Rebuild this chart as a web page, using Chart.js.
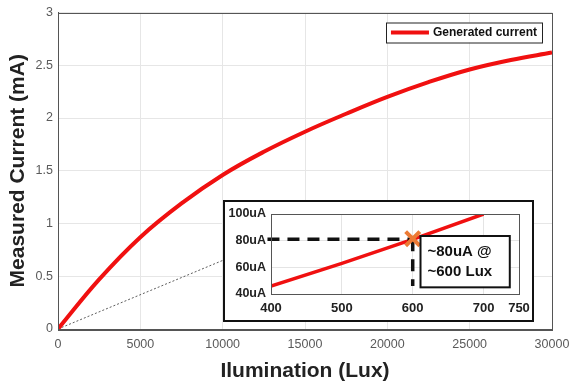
<!DOCTYPE html>
<html>
<head>
<meta charset="utf-8">
<script src="https://cdn.jsdelivr.net/npm/chart.js@4.4.0/dist/chart.umd.min.js"></script>
<style>
  body { margin: 0; background: #fff; overflow: hidden; }
  #wrap { position: relative; width: 572px; height: 388px; }
  #main { position: absolute; left: 0; top: 0; }
  #inset { position: absolute; left: 223px; top: 200px; }
</style>
</head>
<body>
<div id="wrap">
  <canvas id="main" width="572" height="388"></canvas>
  <canvas id="inset" width="311" height="122"></canvas>
</div>
<script>
"use strict";

Chart.defaults.font.family = "'Liberation Sans', Arial, sans-serif";

// main curve
var luxValues = [0, 2500, 5000, 7500, 10000, 12500, 15000, 17500, 20000, 22500, 25000, 27500, 30000];
var currentValues = [0, 0.47, 0.87, 1.19, 1.46, 1.68, 1.87, 2.04, 2.20, 2.34, 2.46, 2.55, 2.62];
var xTicks = [0, 5000, 10000, 15000, 20000, 25000, 30000];
var yTicks = [0, 0.5, 1, 1.5, 2, 2.5, 3];

// thin line pointing at the zoomed inset
var zoomLineLux = [0, 10000];
var zoomLineCurrent = [0, 0.65];

// inset (uA)
var insetLux = [400, 500, 600, 700];
var insetCurrent = [46, 63, 81, 100];
var insetXTicks = [400, 500, 600, 700, 750];
var insetYTicks = [40, 60, 80, 100];
var markerLux = 600;
var markerCurrent = 81;
var guideStartLux = 395;
var guideBottomCurrent = 46;
var noteLines = ["~80uA @", "~600 Lux"];

function toPoints(xs, ys) {
  return xs.map(function (x, i) { return { x: x, y: ys[i] }; });
}

// box around plot area
var framePlugin = {
  id: "frame",
  afterDraw: function (chart) {
    var a = chart.chartArea, c = chart.ctx;
    c.save();
    c.strokeStyle = "#555";
    c.lineWidth = 1;
    c.strokeRect(Math.round(a.left) + 0.5, Math.round(a.top) + 0.5,
      Math.round(a.right - a.left), Math.round(a.bottom - a.top));
    c.restore();
  },
};

// legend inside top-right corner
var boxLegend = {
  id: "boxLegend",
  afterDraw: function (chart) {
    var a = chart.chartArea, c = chart.ctx;
    var ds = chart.data.datasets[0];
    c.save();
    c.font = "bold 12px 'Liberation Sans', Arial, sans-serif";
    var tw = c.measureText(ds.label).width;
    var w = 6 + 38 + 4 + tw + 4, h = 20;
    var x = a.right - 10 - w, y = a.top + 10;
    c.fillStyle = "#fff";
    c.fillRect(x, y, w, h);
    c.strokeStyle = "#222";
    c.lineWidth = 1;
    c.strokeRect(Math.round(x) + 0.5, y + 0.5, Math.round(w), h);
    c.strokeStyle = ds.borderColor;
    c.lineWidth = 4;
    c.beginPath();
    c.moveTo(x + 5, y + h / 2);
    c.lineTo(x + 43, y + h / 2);
    c.stroke();
    c.fillStyle = "#111";
    c.textBaseline = "middle";
    c.fillText(ds.label, x + 47, y + h / 2 + 0.5);
    c.restore();
  },
};

var mainChart = new Chart(document.getElementById("main"), {
  type: "line",
  data: {
    datasets: [
      {
        label: "Generated current",
        data: toPoints(luxValues, currentValues),
        borderColor: "#f01010",
        borderWidth: 4,
        pointRadius: 0,
        tension: 0.4,
      },
      {
        label: "zoom",
        data: toPoints(zoomLineLux, zoomLineCurrent),
        borderColor: "#333",
        borderWidth: 0.8,
        borderDash: [2, 2],
        pointRadius: 0,
      },
    ],
  },
  options: {
    responsive: false,
    animation: false,
    layout: { padding: { top: 10, right: 20, left: 0, bottom: 0 } },
    plugins: { legend: { display: false }, tooltip: { enabled: false } },
    scales: {
      x: {
        type: "linear",
        min: 0,
        max: 30000,
        afterBuildTicks: function (s) { s.ticks = xTicks.map(function (v) { return { value: v }; }); },
        afterFit: function (s) { s.height = 59; s.paddingLeft = 0; s.paddingRight = 0; },
        grid: { color: "#e6e6e6", drawTicks: false },
        border: { color: "#555" },
        ticks: {
          padding: 8,
          color: "#5a5a5a",
          font: { size: 12.5 },
          maxRotation: 0,
          callback: function (v) { return String(v); },
        },
        title: {
          display: true,
          text: "Ilumination (Lux)",
          color: "#222",
          font: { size: 21, weight: "bold" },
          padding: { top: 0, bottom: 4 },
        },
      },
      y: {
        min: 0,
        max: 3,
        afterBuildTicks: function (s) { s.ticks = yTicks.map(function (v) { return { value: v }; }); },
        afterFit: function (s) { s.width = 58; },
        grid: { color: "#e6e6e6", drawTicks: false },
        border: { color: "#555" },
        ticks: {
          padding: 5,
          color: "#5a5a5a",
          font: { size: 12.5 },
          callback: function (v) { return String(v); },
        },
        title: {
          display: true,
          text: "Measured Current (mA)",
          color: "#222",
          font: { size: 21, weight: "bold" },
          padding: { top: 6, bottom: 0 },
        },
      },
    },
  },
  plugins: [framePlugin, boxLegend],
});

// inset: white card, outer frame, note box
var insetDeco = {
  id: "insetDeco",
  beforeDraw: function (chart) {
    var c = chart.ctx;
    c.save();
    c.fillStyle = "#fff";
    c.fillRect(0, 0, chart.width, chart.height);
    c.restore();
  },
  afterDatasetsDraw: function (chart) {
    var c = chart.ctx, xs = chart.scales.x, ys = chart.scales.y;
    var x0 = xs.getPixelForValue(611), x1 = xs.getPixelForValue(737);
    var y0 = ys.getPixelForValue(83.5), y1 = ys.getPixelForValue(45);
    c.save();
    c.fillStyle = "#fff";
    c.fillRect(x0, y0, x1 - x0, y1 - y0);
    c.strokeStyle = "#111";
    c.lineWidth = 2;
    c.strokeRect(x0, y0, x1 - x0, y1 - y0);
    c.fillStyle = "#111";
    c.font = "bold 15px 'Liberation Sans', Arial, sans-serif";
    c.textBaseline = "middle";
    var mid = (y0 + y1) / 2;
    c.fillText(noteLines[0], x0 + 7, mid - 10);
    c.fillText(noteLines[1], x0 + 7, mid + 10);
    c.restore();
  },
  afterDraw: function (chart) {
    var c = chart.ctx;
    c.save();
    c.strokeStyle = "#111";
    c.lineWidth = 2;
    c.strokeRect(1, 1, chart.width - 2, chart.height - 2);
    c.restore();
  },
};

var insetChart = new Chart(document.getElementById("inset"), {
  type: "line",
  data: {
    datasets: [
      {
        label: "inset",
        data: toPoints(insetLux, insetCurrent),
        borderColor: "#f01010",
        borderWidth: 3.5,
        pointRadius: 0,
        order: 2,
      },
      {
        label: "h-guide",
        data: toPoints([guideStartLux, markerLux], [markerCurrent, markerCurrent]),
        borderColor: "#111",
        borderWidth: 3.5,
        borderDash: [12, 8],
        pointRadius: 0,
        clip: false,
        order: 1,
      },
      {
        label: "v-guide",
        data: toPoints([markerLux, markerLux], [markerCurrent, guideBottomCurrent]),
        borderColor: "#111",
        borderWidth: 3.5,
        borderDash: [12, 8],
        pointRadius: 0,
        clip: false,
        order: 1,
      },
      {
        label: "marker",
        data: [{ x: markerLux, y: markerCurrent + 0.5 }],
        showLine: false,
        pointStyle: "crossRot",
        pointRadius: 10,
        borderWidth: 4,
        borderColor: "#ec7a34",
        clip: false,
        order: 0,
      },
    ],
  },
  options: {
    responsive: false,
    animation: false,
    layout: { padding: { top: 9, right: 15, left: 0, bottom: 0 } },
    plugins: { legend: { display: false }, tooltip: { enabled: false } },
    scales: {
      x: {
        type: "linear",
        min: 400,
        max: 750,
        afterBuildTicks: function (s) { s.ticks = insetXTicks.map(function (v) { return { value: v }; }); },
        afterFit: function (s) { s.height = 28; s.paddingLeft = 0; s.paddingRight = 0; },
        grid: { color: "#e4e4e4", drawTicks: false },
        border: { color: "#555" },
        ticks: {
          padding: 7,
          color: "#222",
          font: { size: 13, weight: "bold" },
          maxRotation: 0,
          callback: function (v) { return String(v); },
        },
      },
      y: {
        min: 40,
        max: 100,
        afterBuildTicks: function (s) { s.ticks = insetYTicks.map(function (v) { return { value: v }; }); },
        afterFit: function (s) { s.width = 48; },
        grid: { color: "#e4e4e4", drawTicks: false },
        border: { color: "#555" },
        ticks: {
          padding: 5,
          color: "#222",
          font: { size: 12.5, weight: "bold" },
          callback: function (v) { return v + "uA"; },
        },
      },
    },
  },
  plugins: [insetDeco, framePlugin],
});
</script>
</body>
</html>
